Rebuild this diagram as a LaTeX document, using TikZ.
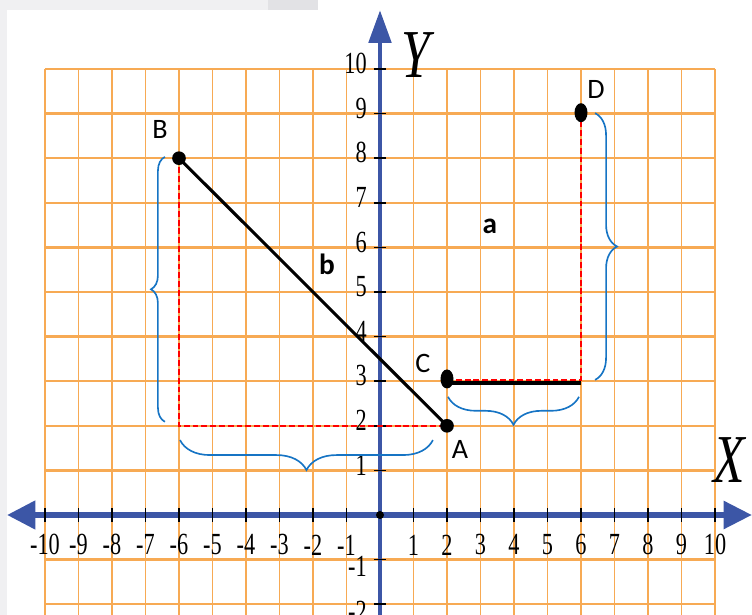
\documentclass[tikz,border=0pt]{standalone}
\usepackage{fontspec}
\setmainfont{Liberation Serif}
\newfontfamily\calibfont{Carlito}
\usepackage{xcolor}
\usepackage{tikz}
\usetikzlibrary{arrows.meta,decorations.pathreplacing,shapes.geometric,calc}

\definecolor{gridorange}{RGB}{247,170,84}
\definecolor{axisblue}{RGB}{60,86,166}
\definecolor{braceblue}{RGB}{22,116,196}
\definecolor{uigray}{RGB}{240,240,242}
\definecolor{uigraydark}{RGB}{226,226,229}

\begin{document}
\begin{tikzpicture}[
    numlbl/.style={font=\fontsize{19}{19}\selectfont, inner sep=0pt, yscale=1.38},
    axislbl/.style={font=\itshape\fontsize{44}{44}\selectfont, inner sep=0pt, yscale=1.33},
    ptlbl/.style={font=\calibfont\fontsize{24}{24}\selectfont, inner sep=0pt},
    seglbl/.style={font=\calibfont\bfseries\fontsize{25}{25}\selectfont, inner sep=0pt},
    roundpt/.style={circle, fill=black, inner sep=0pt, minimum size=0.41cm},
    tallpt/.style={ellipse, fill=black, inner sep=0pt, minimum width=0.39cm, minimum height=0.57cm},
    reddash/.style={red, line width=1.4pt, dash pattern=on 5pt off 2.5pt},
    bracemark/.style={braceblue, line width=1.4pt, decorate}
]
    \useasboundingbox (0,0) rectangle (22.56,18.45);
    \clip (0,0) rectangle (22.56,18.45);

    % Screenshot edges
    \fill[uigray] (0,18.15) rectangle (9.54,18.45);
    \fill[uigraydark] (8.04,18.15) rectangle (9.54,18.45);
    \fill[uigray] (0,0) rectangle (0.21,18.45);

    \begin{scope}[shift={(11.4,3.0)}, x=1.005cm, y=1.338cm]
    % Draw grid lines
    \foreach \x in {-10,...,10} {
        \draw[gridorange, line width=1.4pt] (\x,-2.5) -- (\x,10);
    }
    \foreach \y in {-2,...,10} {
        \draw[gridorange, line width=2pt] (-10,\y) -- (10,\y);
    }

    % Draw axes
    \draw[axisblue, line width=4.4pt, {Triangle[length=0.85cm, width=0.84cm]}-{Triangle[length=0.85cm, width=0.82cm]}] (-11.13,0) -- (11.10,0);
    \draw[axisblue, line width=4.2pt, -{Triangle[length=0.98cm, width=0.66cm]}] (0,-2.5) -- (0,11.32);
    \node[axislbl] (ylbl) at (1.07,10.31) {Y};
    \node[axislbl] (xlbl) at (10.42,1.23) {X};

    % Ticks and numbers
    \foreach \x in {-10,...,-1,1,2,...,10} {
        \draw[black, line width=1.5pt] (\x,-0.15) -- (\x,0.15);
        \node[numlbl] at (\x,-0.67) {\x};
    }
    \foreach \y in {1,...,10} {
        \draw[black, line width=1.5pt] (-0.18,\y) -- (0.18,\y);
        \node[numlbl, anchor=east] at (-0.39,\y+0.12) {\y};
    }
    \foreach \y in {-1,-2} {
        \draw[black, line width=1.5pt] (-0.18,\y) -- (0.18,\y);
        \node[numlbl, anchor=east] at (-0.39,\y-0.15) {\y};
    }
    \fill[black] (0,0) circle (0.12cm);

    % Points
    \coordinate (A) at (2,2);
    \coordinate (B) at (-6,8);
    \coordinate (C) at (2,3.05);
    \coordinate (D) at (6,9.02);
    \coordinate (E) at (6,2.96);

    % Segments and dashed legs
    \draw[reddash] (B) |- (A);
    \draw[black, line width=2.6pt] (B) -- (A);
    \draw[black, line width=3.6pt] (E -| C) -- (E);
    \draw[reddash] (D) |- ([yshift=2.5pt]E -| C);

    \node[roundpt] (dotA) at (A) {};
    \node[roundpt] (dotB) at (B) {};
    \node[tallpt] (dotC) at (C) {};
    \node[tallpt] (dotD) at (D) {};

    \node[ptlbl] (lblA) at (2.39,1.46) {A};
    \node[ptlbl] (lblB) at (-6.57,8.65) {B};
    \node[ptlbl] (lblC) at (1.28,3.39) {C};
    \node[ptlbl] (lblD) at (6.45,9.53) {D};
    \node[seglbl] (lbla) at (3.28,6.48) {a};
    \node[seglbl] (lblb) at (-1.58,5.61) {b};

    % Braces
    \draw[bracemark, decoration={brace, amplitude=0.42cm}] (-6.42,2.09) -- (-6.42,8.03);
    \draw[bracemark, decoration={brace, amplitude=0.9cm}] (1.58,1.68) -- (-5.97,1.68);
    \draw[bracemark, decoration={brace, amplitude=0.84cm}] (5.94,2.65) -- (2.03,2.65);
    \draw[bracemark, decoration={brace, amplitude=0.66cm}] (6.42,9.01) -- (6.42,3.03);
    \end{scope}
\end{tikzpicture}
\end{document}
